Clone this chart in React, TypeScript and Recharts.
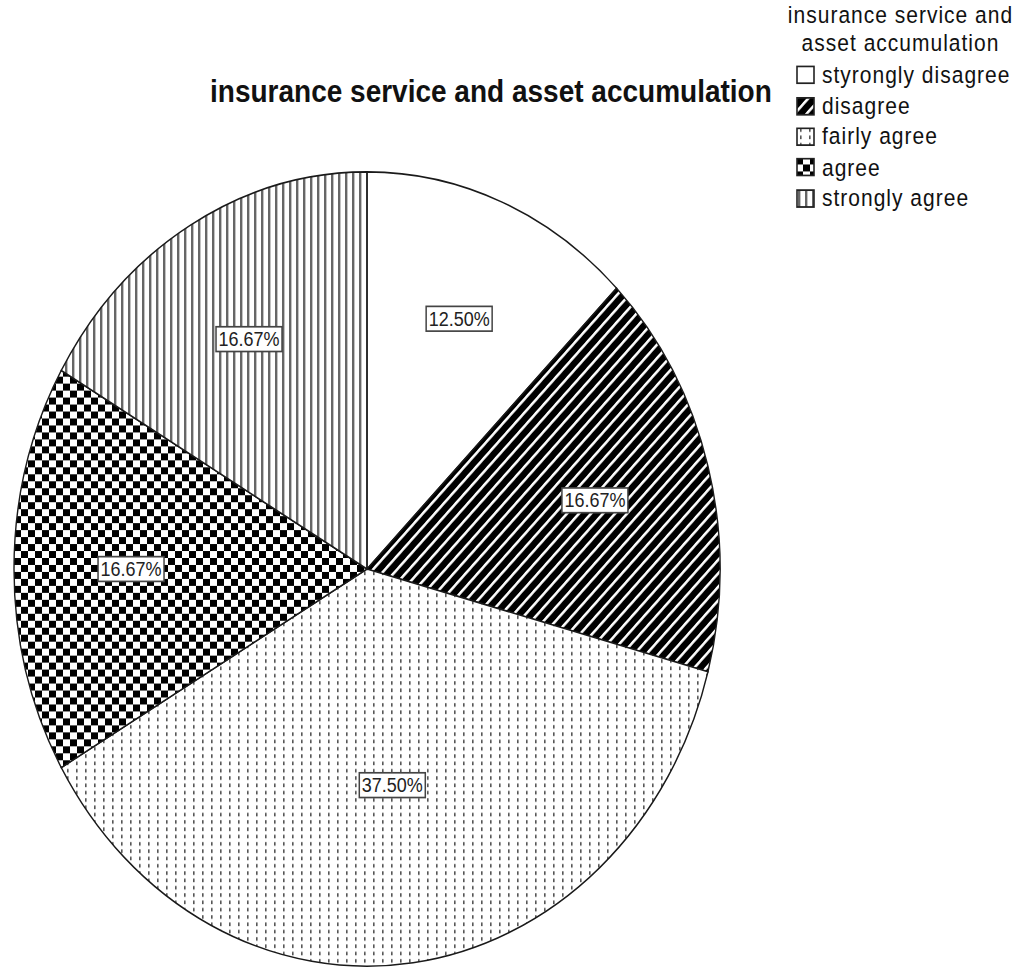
import { PieChart, Pie, Cell, Legend } from 'recharts'

const categories = [
  'styrongly disagree',
  'disagree',
  'fairly agree',
  'agree',
  'strongly agree',
]
const counts = [3, 4, 9, 4, 4]
const fills = [
  '#ffffff',
  'url(#pat-diag)',
  'url(#pat-dots)',
  'url(#pat-check)',
  'url(#pat-vstripe)',
]
const chartTitle = 'insurance service and asset accumulation'
const legendTitle = ['insurance service and', 'asset accumulation']

const data = categories.map((name, i) => ({ name, value: counts[i] }))

const FONT = '"Liberation Sans", Arial, sans-serif'
const RAD = Math.PI / 180
const W = 1021
const H = 861
const STRETCH = 1.125

const renderLabel = (props: any) => {
  const { cx, cy, midAngle, outerRadius, percent } = props
  const a = percent * 2 * Math.PI
  // place the label at the slice centroid
  const r = 0.7 * outerRadius * (Math.sin(a / 2) / (a / 2))
  const x = cx + r * Math.cos(-midAngle * RAD)
  const y = cy + r * Math.sin(-midAngle * RAD)
  const text = `${(percent * 100).toFixed(2)}%`
  const w = 66
  const h = 22
  return (
    <g>
      <rect
        x={x - w / 2}
        y={y - h / 2}
        width={w}
        height={h}
        fill="#fff"
        stroke="#444"
        strokeWidth={1.5}
      />
      <text
        x={x}
        y={y}
        textAnchor="middle"
        dominantBaseline="central"
        fontFamily={FONT}
        fontSize={18}
        fill="#222"
      >
        {text}
      </text>
    </g>
  )
}

const LegendContent = () => (
  <div style={{ fontFamily: FONT, color: '#111', fontSize: 21, letterSpacing: 1 }}>
    <div style={{ textAlign: 'center', lineHeight: '25px' }}>
      {legendTitle.map((t) => (
        <div key={t}>{t}</div>
      ))}
    </div>
    <div style={{ marginTop: 3 }}>
      {data.map((d, i) => (
        <div
          key={d.name}
          style={{ display: 'flex', alignItems: 'center', height: 27.4 }}
        >
          <svg width={20} height={17} style={{ marginLeft: 16, marginRight: 6 }}>
            <rect
              x={1}
              y={1}
              width={17}
              height={15}
              fill={fills[i]}
              stroke="#222"
              strokeWidth={1.6}
            />
          </svg>
          <span>{d.name}</span>
        </div>
      ))}
    </div>
  </div>
)

export default function App() {
  return (
    <div
      style={{
        position: 'absolute',
        top: 0,
        left: 0,
        width: W,
        height: H,
        transform: `scaleY(${STRETCH})`,
        transformOrigin: '0 0',
        background: '#fff',
      }}
    >
      <div
        style={{
          position: 'absolute',
          left: 210,
          top: 68,
          fontFamily: FONT,
          fontWeight: 'bold',
          fontSize: 28,
          lineHeight: '28px',
          color: '#111',
          whiteSpace: 'nowrap',
          zIndex: 2,
        }}
      >
        {chartTitle}
      </div>
      <PieChart width={W} height={H} margin={{ top: 0, right: 0, bottom: 0, left: 0 }}>
        <defs>
          <pattern
            id="pat-diag"
            patternUnits="userSpaceOnUse"
            width={8.5}
            height={8.5}
            patternTransform="rotate(45)"
          >
            <rect width={8.5} height={8.5} fill="#000" />
            <rect x={0} y={0} width={2.4} height={8.5} fill="#fff" />
          </pattern>
          <pattern id="pat-dots" patternUnits="userSpaceOnUse" width={9} height={6.5}>
            <rect width={9} height={6.5} fill="#fff" />
            <rect x={4} y={1} width={1.6} height={3.2} fill="#555" />
          </pattern>
          <pattern id="pat-check" patternUnits="userSpaceOnUse" width={14} height={12.4}>
            <rect width={14} height={12.4} fill="#fff" />
            <rect x={0} y={0} width={7} height={6.2} fill="#000" />
            <rect x={7} y={6.2} width={7} height={6.2} fill="#000" />
          </pattern>
          <pattern id="pat-vstripe" patternUnits="userSpaceOnUse" width={7} height={7}>
            <rect width={7} height={7} fill="#fff" />
            <rect x={2} y={0} width={2.4} height={7} fill="#666" />
          </pattern>
        </defs>
        <Pie
          data={data}
          dataKey="value"
          nameKey="name"
          cx={367}
          cy={505.8}
          outerRadius={353}
          startAngle={90}
          endAngle={-270}
          stroke="#1a1a1a"
          strokeWidth={1.4}
          labelLine={false}
          label={renderLabel}
          isAnimationActive={false}
        >
          {data.map((d, i) => (
            <Cell key={d.name} fill={fills[i]} />
          ))}
        </Pie>
        <Legend
          content={<LegendContent />}
          wrapperStyle={{ position: 'absolute', top: 0, left: 780, width: 241, bottom: 'auto' }}
        />
      </PieChart>
    </div>
  )
}
